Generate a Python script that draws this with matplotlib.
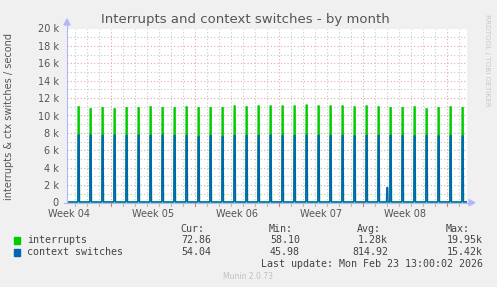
import matplotlib
matplotlib.use("Agg")
import matplotlib.pyplot as plt
import numpy as np

# ---- data ----
# days measured from the start of Week 04; one spike per day
spike_days = [4.28 + k for k in range(33)]
interrupts_peak = [11000, 10770, 10900, 10770, 10900, 10900, 11000, 10900, 10900, 11000,
                   10900, 10900, 10900, 11100, 11000, 11100, 11100, 11100, 11100, 11200,
                   11100, 11100, 11100, 11000, 11100, 11000, 10900, 10900, 11000, 10770,
                   10900, 11000, 10900]
ctx_peak = [7750, 7750, 7700, 7750, 7700, 7750, 7700, 7750, 7700, 7700,
            7550, 7700, 7600, 7700, 7700, 7700, 7750, 7700, 7700, 7750,
            7700, 7700, 7700, 7650, 7700, 7700, 7700, 7700, 7650, 7700,
            7650, 7700, 7650]
interrupts_base = 72.86
ctx_base = 54.04
extra_ctx_day = 30.0       # small extra bump in week 08
extra_ctx_value = 1700
week_labels = ["Week 04", "Week 05", "Week 06", "Week 07", "Week 08"]
y_ticks = [0, 2000, 4000, 6000, 8000, 10000, 12000, 14000, 16000, 18000, 20000]
y_ticklabels = ["0", "2 k", "4 k", "6 k", "8 k", "10 k", "12 k", "14 k", "16 k", "18 k", "20 k"]

legend_rows = [
    ("interrupts", "#00cc00", "72.86", "58.10", "1.28k", "19.95k"),
    ("context switches", "#0066b3", "54.04", "45.98", "814.92", "15.42k"),
]

# ---- figure ----
W, H = 497, 287
fig = plt.figure(figsize=(W / 100, H / 100), dpi=100, facecolor="#f0f0f0")
ax = fig.add_axes([67 / W, (H - 202.5) / H, 400 / W, 174 / H])
ax.set_facecolor("white")

x0 = 3.31
x1 = x0 + 400 / 12.0
ax.set_xlim(x0, x1)
ax.set_ylim(0, 20000)

px = 1 / 12.0  # one pixel in days


def build(peaks, base, extra=None):
    xs, ys = [x0], [base]
    items = list(zip(spike_days, peaks))
    if extra is not None:
        items.append(extra)
        items.sort()
    for d, p in items:
        xs += [d - 0.8 * px, d - 0.5 * px, d + 0.5 * px, d + 0.8 * px]
        ys += [base, p, p, base]
    xs.append(x1)
    ys.append(base)
    return xs, ys


# grid
grey = "#c8c8c8"
red = "#e6a6a6"
for v in range(1000, 20001, 1000):
    col = red if v % 2000 == 0 else grey
    ax.axhline(v, color=col, lw=0.8, ls=(0, (1, 2)), zorder=1)
for d in range(0, 38):
    if x0 < d < x1:
        col = red if d % 7 == 0 else grey
        ax.axvline(d, color=col, lw=0.8, ls=(0, (1, 2)), zorder=1)

xi, yi = build(interrupts_peak, interrupts_base)
xc, yc = build(ctx_peak, ctx_base, (extra_ctx_day, extra_ctx_value))
ax.plot(xi, yi, color="#00cc00", lw=1.0, zorder=3)
ax.plot(xc, yc, color="#0066b3", lw=1.0, zorder=4)

for s in ax.spines.values():
    s.set_visible(False)

ax.set_yticks(y_ticks)
ax.set_yticklabels(y_ticklabels)
ax.set_xticks([3.5 + 7 * i for i in range(5)])
ax.set_xticklabels(week_labels)
ax.tick_params(axis="both", length=0, labelsize=7, colors="#555555")
ax.tick_params(axis="y", pad=6)
ax.tick_params(axis="x", pad=5)

# axis lines with arrows
axcol = "#b4b4ff"
fig.add_artist(plt.Line2D([67 / W, 67 / W], [(H - 203) / H, (H - 24) / H], color=axcol, lw=0.8))
fig.add_artist(plt.Line2D([64 / W, 471 / W], [(H - 202.7) / H, (H - 202.7) / H], color=axcol, lw=0.8))
fig.add_artist(plt.Polygon([[64 / W, (H - 25) / H], [70 / W, (H - 25) / H], [67 / W, (H - 19) / H]],
                           closed=True, color=axcol, transform=fig.transFigure))
fig.add_artist(plt.Polygon([[469 / W, (H - 199.7) / H], [469 / W, (H - 205.7) / H], [475 / W, (H - 202.7) / H]],
                           closed=True, color=axcol, transform=fig.transFigure))

# small ticks below x axis
for d in range(0, 38):
    if x0 < d < x1:
        pxx = 67 + (d - x0) * 12
        col = "#d08080" if d % 7 == 0 else "#bbbbbb"
        fig.add_artist(plt.Line2D([pxx / W, pxx / W], [(H - 203) / H, (H - 206) / H], color=col, lw=0.8))

# title, labels
fig.text(245 / W, 1 - 19 / H, "Interrupts and context switches - by month", ha="center", va="center",
         fontsize=9.5, color="#555555")
fig.text(9 / W, 1 - 116 / H, "interrupts & ctx switches / second", rotation=90, ha="center", va="center",
         fontsize=7, color="#555555")
fig.text(487 / W, 1 - 60 / H, "RRDTOOL / TOBI OETIKER", rotation=270, ha="center", va="center",
         fontsize=5.2, color="#c8c8c8")

# legend
mono = "DejaVu Sans Mono"
lc = "#444444"
fs = 7.2
fig.text(204 / W, 1 - 228.5 / H, "Cur:", ha="right", va="center", family=mono, fontsize=fs, color=lc)
fig.text(293 / W, 1 - 228.5 / H, "Min:", ha="right", va="center", family=mono, fontsize=fs, color=lc)
fig.text(381 / W, 1 - 228.5 / H, "Avg:", ha="right", va="center", family=mono, fontsize=fs, color=lc)
fig.text(470 / W, 1 - 228.5 / H, "Max:", ha="right", va="center", family=mono, fontsize=fs, color=lc)
for i, (name, col, cur, mn, avg, mx) in enumerate(legend_rows):
    yy = 1 - (240 + 12 * i) / H
    fig.add_artist(plt.Rectangle((14 / W, yy - 3.5 / H), 6 / W, 7 / H, color=col, transform=fig.transFigure))
    fig.text(27 / W, yy, name, ha="left", va="center", family=mono, fontsize=fs, color=lc)
    fig.text(211 / W, yy, cur, ha="right", va="center", family=mono, fontsize=fs, color=lc)
    fig.text(300 / W, yy, mn, ha="right", va="center", family=mono, fontsize=fs, color=lc)
    fig.text(388 / W, yy, avg, ha="right", va="center", family=mono, fontsize=fs, color=lc)
    fig.text(483 / W, yy, mx, ha="right", va="center", family=mono, fontsize=fs, color=lc)
fig.text(483 / W, 1 - 264 / H, "Last update: Mon Feb 23 13:00:02 2026", ha="right", va="center",
         family=mono, fontsize=fs, color=lc)
fig.text(248 / W, 1 - 276.5 / H, "Munin 2.0.73", ha="center", va="center", fontsize=5.5, color="#c0c0c0")

fig.savefig("out.png", dpi=100, facecolor=fig.get_facecolor())
